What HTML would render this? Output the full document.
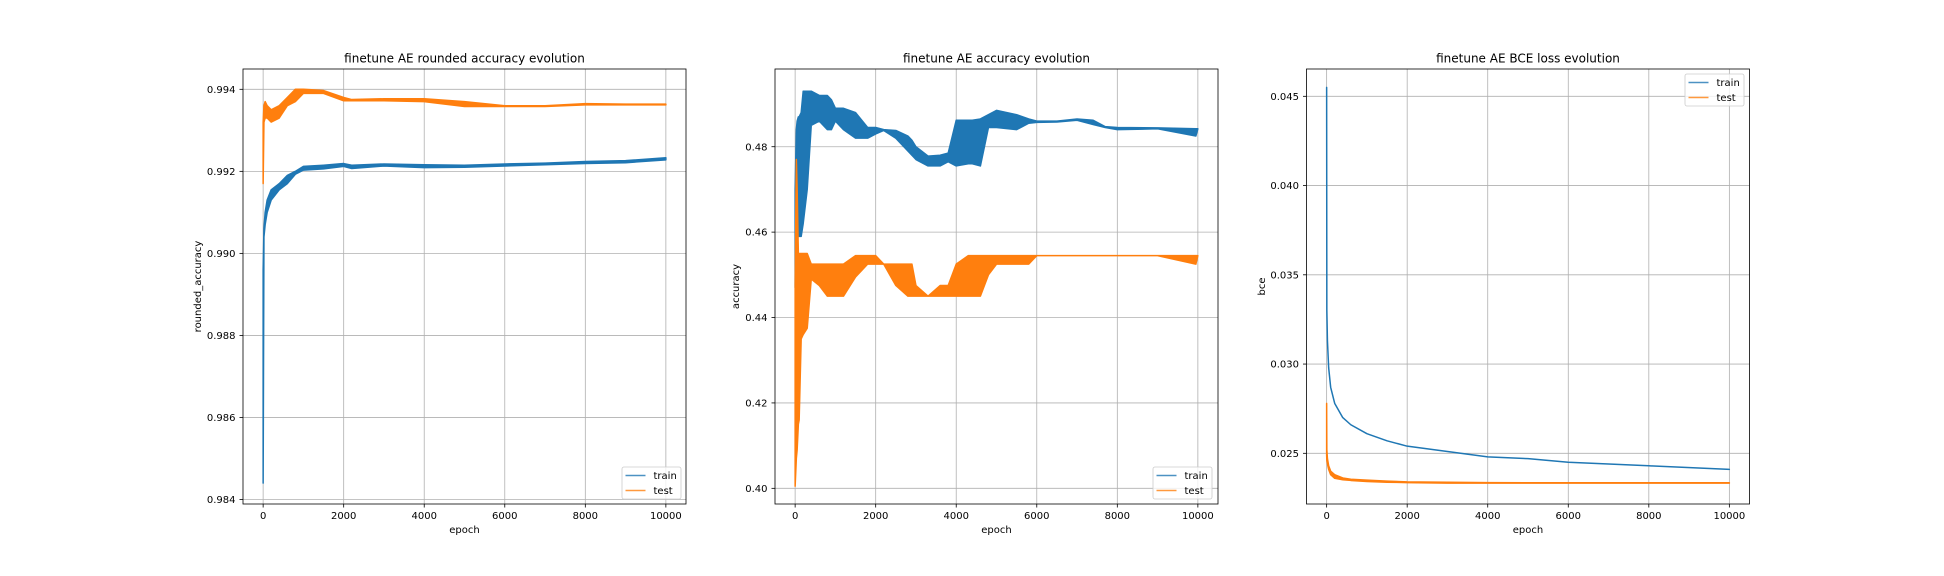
<!DOCTYPE html>
<html><head><meta charset="utf-8"><style>
html,body{margin:0;padding:0;background:#fff;}
svg{display:block;font-family:"DejaVu Sans","Liberation Sans",sans-serif;}
</style></head><body>
<svg id="fig" width="1944" height="576" viewBox="0 0 1944 576" xmlns="http://www.w3.org/2000/svg"></svg>
<script>
// ---- chart 1: rounded accuracy ----
const c1Epochs   = [0, 20, 50, 100, 200, 400, 600, 800, 1000, 1500, 2000, 2200, 3000, 4000, 5000, 6000, 7000, 8000, 9000, 10000];
const c1TrainLow = [0.9844, 0.9904, 0.9907, 0.9910, 0.9913, 0.99155, 0.9917, 0.99193, 0.99203, 0.99206, 0.99212, 0.99207, 0.99213, 0.99209, 0.99210, 0.99213, 0.99216, 0.99219, 0.99221, 0.99228];
const c1TrainHigh= [0.9896, 0.9906, 0.9910, 0.9913, 0.99155, 0.99170, 0.9919, 0.99200, 0.99212, 0.99215, 0.99219, 0.99215, 0.99218, 0.99216, 0.99215, 0.99218, 0.99220, 0.99224, 0.99226, 0.99233];
const c1TestLow  = [0.9917, 0.9932, 0.9933, 0.9933, 0.9932, 0.9933, 0.9936, 0.9937, 0.9939, 0.9939, 0.99372, 0.99372, 0.99372, 0.99370, 0.99358, 0.99358, 0.99358, 0.99362, 0.99362, 0.99362];
const c1TestHigh = [0.9932, 0.9936, 0.9937, 0.9936, 0.9935, 0.9936, 0.9938, 0.9940, 0.9940, 0.99397, 0.99380, 0.99375, 0.99377, 0.99377, 0.99370, 0.99360, 0.99360, 0.99365, 0.99364, 0.99364];
const c1YTicks   = [0.984, 0.986, 0.988, 0.990, 0.992, 0.994];
const c1YLabels  = ["0.984", "0.986", "0.988", "0.990", "0.992", "0.994"];

// ---- chart 2: accuracy ----
const c2Epochs   = [0, 30, 50, 80, 100, 150, 200, 300, 400, 600, 800, 900, 1000, 1200, 1500, 1800, 2000, 2200, 2500, 2800, 2900, 3000, 3300, 3600, 3800, 4000, 4300, 4400, 4600, 4700, 4800, 5000, 5500, 5800, 6000, 6500, 7000, 7400, 7700, 8000, 9000, 9950, 10000];
const c2TrainLow = [0.447, 0.455, 0.460, 0.459, 0.459, 0.459, 0.462, 0.470, 0.485, 0.486, 0.484, 0.484, 0.486, 0.484, 0.482, 0.482, 0.483, 0.4838, 0.482, 0.479, 0.478, 0.477, 0.4755, 0.4755, 0.4765, 0.4755, 0.476, 0.476, 0.4755, 0.4800, 0.4845, 0.4845, 0.4840, 0.4855, 0.4857, 0.4858, 0.4862, 0.4852, 0.4845, 0.4840, 0.4842, 0.4825, 0.4842];
const c2TrainHigh= [0.470, 0.484, 0.486, 0.487, 0.487, 0.488, 0.493, 0.493, 0.493, 0.492, 0.492, 0.491, 0.489, 0.489, 0.488, 0.4845, 0.4845, 0.4840, 0.4838, 0.4825, 0.4815, 0.480, 0.4778, 0.478, 0.4785, 0.4862, 0.4862, 0.4862, 0.4865, 0.4870, 0.4875, 0.4885, 0.4875, 0.4865, 0.4860, 0.4860, 0.4865, 0.4862, 0.4847, 0.4845, 0.4844, 0.4842, 0.4842];
const c2TestLow  = [0.4005, 0.407, 0.409, 0.415, 0.416, 0.435, 0.436, 0.4375, 0.449, 0.4475, 0.4450, 0.4450, 0.445, 0.445, 0.4495, 0.4525, 0.4525, 0.4525, 0.4475, 0.4450, 0.4450, 0.4450, 0.4450, 0.4450, 0.4450, 0.445, 0.445, 0.445, 0.445, 0.4475, 0.4500, 0.4525, 0.4525, 0.4525, 0.4545, 0.4545, 0.4545, 0.4545, 0.4545, 0.4545, 0.4545, 0.4525, 0.4545];
const c2TestHigh = [0.4475, 0.477, 0.470, 0.455, 0.455, 0.455, 0.455, 0.455, 0.4525, 0.4525, 0.4525, 0.4525, 0.4525, 0.4525, 0.4545, 0.4545, 0.4545, 0.4525, 0.4525, 0.4525, 0.4525, 0.4475, 0.4450, 0.4475, 0.4475, 0.4525, 0.4545, 0.4545, 0.4545, 0.4545, 0.4545, 0.4545, 0.4545, 0.4545, 0.4545, 0.4545, 0.4545, 0.4545, 0.4545, 0.4545, 0.4545, 0.4545, 0.4545];
const c2YTicks   = [0.40, 0.42, 0.44, 0.46, 0.48];
const c2YLabels  = ["0.40", "0.42", "0.44", "0.46", "0.48"];

// ---- chart 3: BCE loss ----
const c3Epochs   = [0, 5, 20, 50, 100, 200, 400, 600, 1000, 1500, 2000, 3000, 4000, 5000, 6000, 8000, 10000];
const c3TrainLow = [0.0455, 0.0330, 0.0313, 0.0298, 0.0287, 0.0278, 0.0270, 0.0266, 0.0261, 0.0257, 0.0254, 0.0251, 0.0248, 0.0247, 0.0245, 0.0243, 0.0241];
const c3TrainHigh= [0.0455, 0.0330, 0.0313, 0.0298, 0.0287, 0.0278, 0.0270, 0.0266, 0.0261, 0.0257, 0.0254, 0.0251, 0.0248, 0.0247, 0.0245, 0.0243, 0.0241];
const c3TestLow  = [0.0249, 0.0246, 0.0244, 0.0241, 0.0238, 0.0236, 0.02352, 0.02348, 0.02342, 0.02338, 0.02336, 0.02333, 0.02333, 0.02333, 0.02333, 0.02333, 0.02333];
const c3TestHigh = [0.0278, 0.0252, 0.0247, 0.0243, 0.0240, 0.0238, 0.02362, 0.02355, 0.02350, 0.02344, 0.02340, 0.02338, 0.02336, 0.02335, 0.02335, 0.02335, 0.02335];
const c3YTicks   = [0.025, 0.030, 0.035, 0.040, 0.045];
const c3YLabels  = ["0.025", "0.030", "0.035", "0.040", "0.045"];

const xTicks  = [0, 2000, 4000, 6000, 8000, 10000];
const xLabels = ["0", "2000", "4000", "6000", "8000", "10000"];

const NS = "http://www.w3.org/2000/svg";
const svg = document.getElementById("fig");
const BLUE = "#1f77b4", ORANGE = "#ff7f0e";
const FS = 10;

function mk(tag, attrs, parent) {
  const e = document.createElementNS(NS, tag);
  for (const k in attrs) e.setAttribute(k, attrs[k]);
  (parent || svg).appendChild(e);
  return e;
}

function drawChart(cfg) {
  const g = mk("g", {});
  
  
  const L = cfg.left, R = cfg.left + 443, T = 69, B = 504;
  const sx = v => L + (v - cfg.xmin) / (cfg.xmax - cfg.xmin) * (R - L);
  const sy = v => B - (v - cfg.ymin) / (cfg.ymax - cfg.ymin) * (B - T);

  xTicks.forEach((t, i) => {
    const x = sx(t);
    const gl = mk("line", {x1: x, x2: x, y1: T, y2: B, stroke: "#b0b0b0", "stroke-width": 0.8}, g);
    
    
    mk("line", {x1: x, x2: x, y1: B, y2: B + 3.5, stroke: "#000", "stroke-width": 0.8}, g);
    const tx = mk("text", {x: x, y: 519, "font-size": FS, "text-anchor": "middle", fill: "#000"}, g);
    tx.textContent = xLabels[i];
    
    
  });
  cfg.yTicks.forEach((t, i) => {
    const y = sy(t);
    const gl = mk("line", {x1: L, x2: R, y1: y, y2: y, stroke: "#b0b0b0", "stroke-width": 0.8}, g);
    
    
    mk("line", {x1: L - 3.5, x2: L, y1: y, y2: y, stroke: "#000", "stroke-width": 0.8}, g);
    const tx = mk("text", {x: L - 7.5, y: y + 3.6, "font-size": FS, "text-anchor": "end", fill: "#000"}, g);
    tx.textContent = cfg.yLabels[i];
    
    
  });

  function band(ep, lo, hi, color, name) {
    let pts = [];
    for (let i = 0; i < ep.length; i++) pts.push(sx(ep[i]).toFixed(2) + "," + sy(hi[i]).toFixed(2));
    for (let i = ep.length - 1; i >= 0; i--) pts.push(sx(ep[i]).toFixed(2) + "," + sy(lo[i]).toFixed(2));
    const p = mk("polygon", {points: pts.join(" "), fill: color, stroke: color, "stroke-width": 1.5, "stroke-linejoin": "round"}, g);
    
    
  }
  band(cfg.ep, cfg.trLo, cfg.trHi, BLUE, "train-line");
  band(cfg.ep, cfg.teLo, cfg.teHi, ORANGE, "test-line");

  const fr = mk("rect", {x: L, y: T, width: R - L, height: B - T, fill: "none", stroke: "#000", "stroke-width": 0.8}, g);
  
  

  const ti = mk("text", {x: (L + R) / 2, y: 62.5, "font-size": 12, "text-anchor": "middle", fill: "#000"}, g);
  ti.textContent = cfg.title;
  
  

  const xl = mk("text", {x: (L + R) / 2, y: 533, "font-size": FS, "text-anchor": "middle", fill: "#000"}, g);
  xl.textContent = "epoch";
  
  

  const yx = cfg.ylabX, yy = (T + B) / 2;
  const yl = mk("text", {x: yx, y: yy, "font-size": FS, "text-anchor": "middle", fill: "#000", transform: "rotate(-90 " + yx + " " + yy + ")"}, g);
  yl.textContent = cfg.ylabel;
  
  

  const lx = cfg.legX, ly = cfg.legY;
  const lg = mk("g", {}, g);
  
  
  mk("rect", {x: lx, y: ly, width: 59, height: 32, rx: 2, fill: "#fff", "fill-opacity": 0.8, stroke: "#cccccc", "stroke-width": 0.8}, lg);
  [["train", BLUE], ["test", ORANGE]].forEach((e, i) => {
    const ent = mk("g", {}, lg);
    
    
    const yy2 = ly + 8.5 + i * 15;
    mk("line", {x1: lx + 3.5, x2: lx + 23.5, y1: yy2, y2: yy2, stroke: e[1], "stroke-width": 1.5, "stroke-opacity": 0.8}, ent);
    const t = mk("text", {x: lx + 31.5, y: yy2 + 3.6, "font-size": FS, fill: "#000"}, ent);
    t.textContent = e[0];
  });
}

drawChart({name: "rounded-accuracy-chart", left: 243, xmin: -500, xmax: 10500, ymin: 0.98389, ymax: 0.994495,
  yTicks: c1YTicks, yLabels: c1YLabels, ep: c1Epochs, trLo: c1TrainLow, trHi: c1TrainHigh, teLo: c1TestLow, teHi: c1TestHigh,
  title: "finetune AE rounded accuracy evolution", ylabel: "rounded_accuracy", ylabX: 201, legX: 622, legY: 467});
drawChart({name: "accuracy-chart", left: 775, xmin: -500, xmax: 10500, ymin: 0.39633, ymax: 0.4982,
  yTicks: c2YTicks, yLabels: c2YLabels, ep: c2Epochs, trLo: c2TrainLow, trHi: c2TrainHigh, teLo: c2TestLow, teHi: c2TestHigh,
  title: "finetune AE accuracy evolution", ylabel: "accuracy", ylabX: 739, legX: 1153, legY: 467});
drawChart({name: "bce-loss-chart", left: 1306.5, xmin: -500, xmax: 10500, ymin: 0.02216, ymax: 0.04653,
  yTicks: c3YTicks, yLabels: c3YLabels, ep: c3Epochs, trLo: c3TrainLow, trHi: c3TrainHigh, teLo: c3TestLow, teHi: c3TestHigh,
  title: "finetune AE BCE loss evolution", ylabel: "bce", ylabX: 1265, legX: 1685, legY: 74});
</script>
</body></html>
